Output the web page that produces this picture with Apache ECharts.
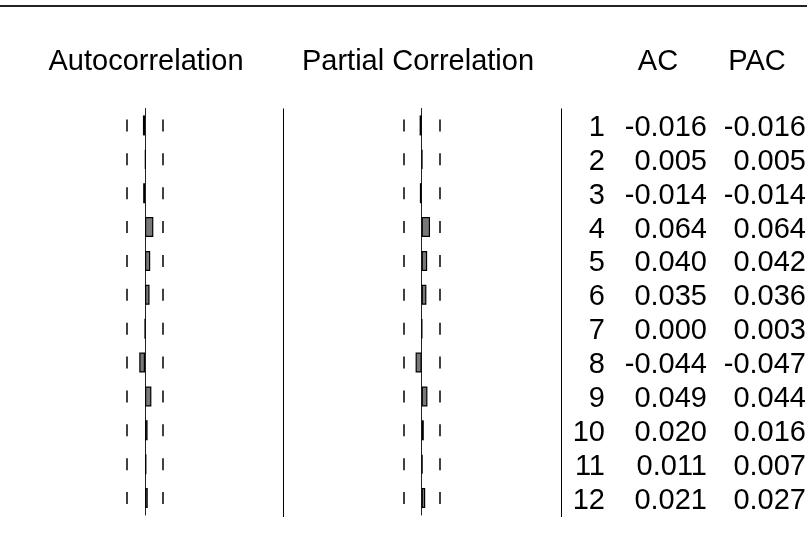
<!DOCTYPE html>
<html>
<head>
<meta charset="utf-8">
<script src="https://cdn.jsdelivr.net/npm/echarts@6/dist/echarts.min.js"></script>
<style>html,body{margin:0;padding:0;background:#fff}#c{width:807px;height:548px}</style>
</head>
<body>
<div id="c"></div>
<script>
var lags = ['1','2','3','4','5','6','7','8','9','10','11','12'];
var acValues = [-0.016, 0.005, -0.014, 0.064, 0.040, 0.035, 0.000, -0.044, 0.049, 0.020, 0.011, 0.021];
var pacValues = [-0.016, 0.005, -0.014, 0.064, 0.042, 0.036, 0.003, -0.047, 0.044, 0.016, 0.007, 0.027];
var headers = ['Autocorrelation', 'Partial Correlation', 'AC', 'PAC'];
var confBound = 0.138;

var FONT = 'Liberation Sans, Arial, sans-serif';
var GRID_TOP = 108.5, GRID_H = 406.5;

var chart = echarts.init(document.getElementById('c'), null, {renderer: 'canvas'});

function boundRender(params, api) {
  var row = api.value(0);
  var pts = [-confBound, confBound].map(function (b) { return api.coord([b, row]); });
  return {
    type: 'group',
    children: pts.map(function (p) {
      return {type: 'line', shape: {x1: Math.round(p[0]), y1: p[1] - 6, x2: Math.round(p[0]), y2: p[1] + 6},
              style: {stroke: '#111', lineWidth: 1.6}};
    })
  };
}

function textRender(params, api) {
  var i = params.dataIndex;
  var y = api.coord([0, i])[1] + 2.5;
  function t(x, s) {
    return {type: 'text', x: x, y: y, style: {text: s, fill: '#000', font: '29px ' + FONT, textAlign: 'right', textVerticalAlign: 'middle'}};
  }
  return {type: 'group', children: [
    t(605, lags[i]),
    t(707, acValues[i].toFixed(3)),
    t(806, pacValues[i].toFixed(3))
  ]};
}

var rowIdx = lags.map(function (_, i) { return [i]; });

function valueAxis(idx) {
  return {type: 'value', gridIndex: idx, min: -1, max: 1, show: false};
}
function rowAxis(idx, showLine) {
  return {type: 'category', gridIndex: idx, data: lags, inverse: true, boundaryGap: true,
          axisLine: {show: showLine, onZero: true, lineStyle: {color: '#222', width: 1}},
          axisTick: {show: false}, axisLabel: {show: false}, splitLine: {show: false}};
}

var option = {
  animation: false,
  backgroundColor: '#fff',
  grid: [
    {left: 15, top: GRID_TOP, width: 260, height: GRID_H},
    {left: 291.7, top: GRID_TOP, width: 260, height: GRID_H},
    {left: 561, top: GRID_TOP, width: 246, height: GRID_H}
  ],
  xAxis: [valueAxis(0), valueAxis(1), {type: 'value', gridIndex: 2, min: 0, max: 1, show: false}],
  yAxis: [rowAxis(0, true), rowAxis(1, true), rowAxis(2, false)],
  series: [
    {type: 'bar', xAxisIndex: 0, yAxisIndex: 0, data: acValues, barWidth: 20,
     itemStyle: {color: '#787878', borderColor: '#000', borderWidth: 1.2}, silent: true},
    {type: 'bar', xAxisIndex: 1, yAxisIndex: 1, data: pacValues, barWidth: 20,
     itemStyle: {color: '#787878', borderColor: '#000', borderWidth: 1.2}, silent: true},
    {type: 'custom', xAxisIndex: 0, yAxisIndex: 0, data: rowIdx, renderItem: boundRender, silent: true},
    {type: 'custom', xAxisIndex: 1, yAxisIndex: 1, data: rowIdx, renderItem: boundRender, silent: true},
    {type: 'custom', xAxisIndex: 2, yAxisIndex: 2, data: rowIdx, renderItem: textRender, silent: true}
  ],
  graphic: [
    {type: 'line', shape: {x1: 0, y1: 6, x2: 807, y2: 6}, style: {stroke: '#222', lineWidth: 2}},
    {type: 'line', shape: {x1: 283.5, y1: GRID_TOP, x2: 283.5, y2: GRID_TOP + GRID_H + 2}, style: {stroke: '#000', lineWidth: 1}},
    {type: 'line', shape: {x1: 561.5, y1: GRID_TOP, x2: 561.5, y2: GRID_TOP + GRID_H + 2}, style: {stroke: '#000', lineWidth: 1}},
    {type: 'text', x: 146, y: 62, style: {text: headers[0], font: '29px ' + FONT, fill: '#000', textAlign: 'center', textVerticalAlign: 'middle'}},
    {type: 'text', x: 418, y: 62, style: {text: headers[1], font: '29px ' + FONT, fill: '#000', textAlign: 'center', textVerticalAlign: 'middle'}},
    {type: 'text', x: 658, y: 62, style: {text: headers[2], font: '29px ' + FONT, fill: '#000', textAlign: 'center', textVerticalAlign: 'middle'}},
    {type: 'text', x: 757, y: 62, style: {text: headers[3], font: '29px ' + FONT, fill: '#000', textAlign: 'center', textVerticalAlign: 'middle'}}
  ]
};
chart.setOption(option);
</script>
</body>
</html>
